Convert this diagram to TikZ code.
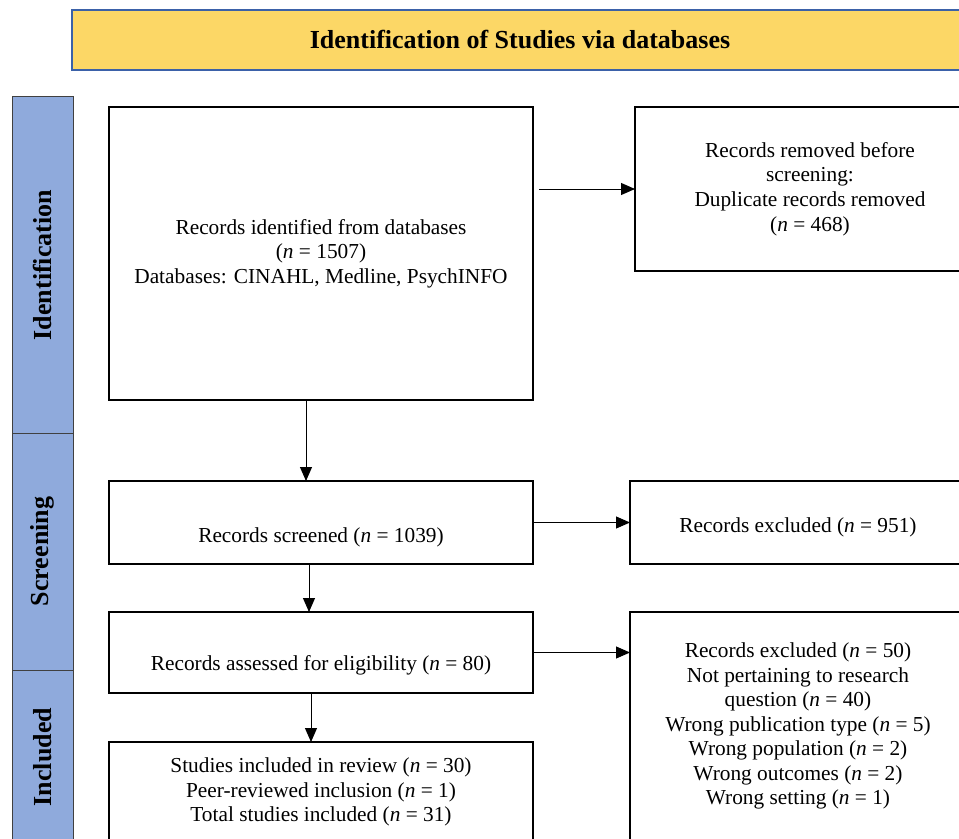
\documentclass[tikz,border=0pt]{standalone}
\usepackage{fontspec}
\setmainfont{Liberation Serif}
\usetikzlibrary{positioning, arrows.meta}

\definecolor{bannergold}{RGB}{252,215,102}
\definecolor{bannerblue}{RGB}{59,97,168}
\definecolor{phaseblue}{RGB}{143,170,220}

\tikzset{
  box/.style={draw, line width=1.5pt, inner sep=0pt, outer sep=0pt, align=center,
    font=\fontsize{16}{18.4}\selectfont},
  lowtext/.style={text height=#1, text depth=3.5pt},
  phase/.style={draw=black!75, fill=phaseblue, line width=0.75pt, inner sep=0pt, outer sep=0pt,
    minimum width=45.75pt, font=\fontsize{19.5}{22}\selectfont\bfseries},
  flow/.style={-{Triangle[length=10.5pt,width=9pt]}, line width=0.75pt},
}

\begin{document}
\begin{tikzpicture}[x=0.75pt, y=-0.75pt]
  \useasboundingbox (0,0) rectangle (959,838);
  \clip (0,0) rectangle (959,838);

  \node[draw=bannerblue, fill=bannergold, line width=1.5pt, minimum width=672pt, minimum height=45pt,
    font=\fontsize{19.5}{22}\selectfont\bfseries] (title) at (520,40) {Identification of Studies via databases};

  % phase bars
  \node[phase, minimum height=252pt] (ident) at (42.5,265) {\rotatebox{90}{Identification}};
  \node[phase, minimum height=177.75pt, below=0pt of ident] (screen) {\rotatebox{90}{Screening}};
  \node[phase, minimum height=130.5pt, below=0pt of screen] (incl) {\rotatebox{90}{Included}};

  % flow boxes
  \node[box, minimum width=318pt, minimum height=219.75pt] (found) at (321,253.5)
    {Records identified from databases\\(\textit{n} = 1507)\\Databases: CINAHL, Medline, PsychINFO};
  \node[box, minimum width=262.5pt, minimum height=123pt, right=76.5pt of found.north east, anchor=north west] (dupl)
    {Records removed before\\screening:\\Duplicate records removed\\(\textit{n} = 468)};
  \node[box, lowtext=33.5pt, minimum width=318pt, minimum height=62.25pt, below=60.75pt of found] (screened)
    {Records screened (\textit{n} = 1039)};
  \node[box, lowtext=18.5pt, minimum width=252pt, minimum height=62.25pt, right=72.75pt of screened] (excl)
    {Records excluded (\textit{n} = 951)};
  \node[box, lowtext=29.8pt, minimum width=318pt, minimum height=60.75pt, below=36pt of screened] (assessed)
    {Records assessed for eligibility (\textit{n} = 80)};
  \node[box, minimum width=252pt, minimum height=171pt, right=72.75pt of assessed.north east, anchor=north west] (reasons)
    {Records excluded (\textit{n} = 50)\\Not pertaining to research\\question (\textit{n} = 40)\\Wrong publication type (\textit{n} = 5)\\Wrong population (\textit{n} = 2)\\Wrong outcomes (\textit{n} = 2)\\Wrong setting (\textit{n} = 1)};
  \node[box, minimum width=318pt, minimum height=75pt, below=36.75pt of assessed] (studies)
    {Studies included in review (\textit{n} = 30)\\Peer-reviewed inclusion (\textit{n} = 1)\\Total studies included (\textit{n} = 31)};

  \draw[flow] (found.east |- dupl.west) ++(4.5pt,0) -- (dupl.west);
  \draw[flow] ([xshift=-11.25pt]found.south) -- ([xshift=-11.25pt]screened.north);
  \draw[flow] (screened.east) -- (excl.west);
  \draw[flow] ([xshift=-9pt]screened.south) -- ([xshift=-9pt]assessed.north);
  \draw[flow] (assessed.east) -- (assessed.east -| reasons.west);
  \draw[flow] ([xshift=-7.5pt]assessed.south) -- ([xshift=-7.5pt]studies.north);
\end{tikzpicture}
\end{document}
